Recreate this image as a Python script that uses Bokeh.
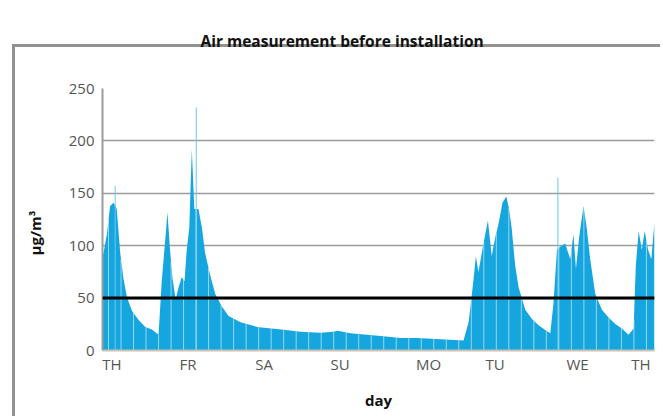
import numpy as np
from bokeh.plotting import figure
from bokeh.models import Range1d, FixedTicker, Span, Title, LinearAxis
from bokeh.embed import file_html
from bokeh.resources import INLINE

# ---- data (hours since start of Thursday, concentration in µg/m³) ----
hours = [0.0, 0.3, 1.4, 2.4, 3.5, 4.5, 5.6, 6.6, 7.7, 9.3, 11.4, 13.5, 15.6, 17.7,
         18.7, 19.8, 20.5, 21.4, 22.1, 23.1, 24.0, 25.0, 25.9, 26.6, 27.4, 28.2,
         29.0, 30.3, 31.4, 32.4, 34.0, 35.6, 37.7, 39.8, 43.6, 48.8, 57.2, 62.5,
         68.8, 72.9, 74.2, 78.3, 88.7, 94.1, 99.5, 108.2, 114.0, 115.6, 117.1,
         117.9, 118.7, 120.3, 121.7, 122.9, 124.0, 125.0, 126.3, 127.5, 128.4,
         129.2, 130.3, 131.4, 133.5, 135.6, 137.7, 139.8, 141.4, 142.4, 143.5,
         144.5, 146.1, 147.7, 148.7, 149.5, 150.5, 151.9, 152.9, 154.0, 155.6,
         157.7, 159.8, 161.9, 164.0, 166.1, 167.7, 168.4, 169.3, 170.3, 171.2,
         172.3, 173.3, 174.3]
values = [90, 93, 111, 138, 141, 135, 93, 69, 51, 38, 29, 22.5, 20, 15,
          66, 105, 132, 93, 69, 49, 60, 70, 66, 96, 117, 192,
          135, 135, 117, 93, 72, 54, 42, 33, 27, 22.5, 19.8, 18,
          17, 18, 18.9, 16.5, 13.5, 12, 12, 10.5, 9.5, 27, 66,
          90, 75, 102, 124, 90, 108, 120, 141, 147, 135,
          117, 81, 60, 39, 30, 24, 19.5, 16.5, 45, 96,
          99, 102, 87, 111, 78, 108, 138, 117, 87, 54,
          39, 31.5, 25.4, 21, 15, 21, 81, 114, 96, 114,
          96, 87, 123]
spike_hours = [4.0, 29.6, 143.8]
spike_values = [157, 232, 165]

day_labels = ["TH", "FR", "SA", "SU", "MO", "TU", "WE", "TH"]
day_tick_hours = [3, 27, 51, 75, 103, 124, 150, 170]
y_ticks = [0, 50, 100, 150, 200, 250]
limit_value = 50

title_text = "Air measurement before installation"
y_label_text = "µg/m³"
x_label_text = "day"

BLUE = "#15a6df"
FONT = "Open Sans"
FRAME = "#929292"

p = figure(width=660, height=416, output_backend="svg", toolbar_location=None,
           x_range=Range1d(0, 174.3), y_range=Range1d(0, 250),
           min_border_left=102, min_border_right=6, min_border_top=72,
           min_border_bottom=66)
p.outline_line_color = None
p.background_fill_color = None
p.border_fill_color = None
# outer gray frame (left and top edges; the rest runs off the page)
p.styles = {
    "background-image": f"linear-gradient({FRAME},{FRAME}), linear-gradient({FRAME},{FRAME})",
    "background-size": "3px 100%, 100% 3px",
    "background-position": "12px 44px, 12px 44px",
    "background-repeat": "no-repeat",
}

# the main axes (grab them before any extra axis is added)
xa = p.below[0]
ya = p.left[0]

# default title left blank (takes no space)
p.title.text = " "
# invisible spacer axis between the frame and the real title:
# one hidden tick whose (invisible) length reserves the room
spacer_tick = [87]
spacer = LinearAxis(ticker=FixedTicker(ticks=spacer_tick), axis_line_color=None,
                    major_tick_line_color=None, minor_tick_line_color=None,
                    major_tick_out=37, major_tick_in=0, major_label_standoff=0,
                    major_label_overrides={spacer_tick[0]: ""},
                    major_label_text_font_size="0px", major_label_text_alpha=0)
p.add_layout(spacer, "above")
# real title, stacked above the spacer
p.add_layout(Title(text=title_text, align="left", offset=98, standoff=0,
                   text_font=FONT, text_font_size="15.5px",
                   text_font_style="bold", text_color="#111111"), "above")

# y label as a side title (outside the y axis)
p.add_layout(Title(text=y_label_text, align="left", offset=95, standoff=42,
                   text_font=FONT, text_font_size="15px",
                   text_font_style="bold", text_color="#111111"), "left")

# area
p.varea(x=hours, y1=0, y2=values, fill_color=BLUE, fill_alpha=1.0)
p.segment(x0=spike_hours, y0=[0] * len(spike_hours), x1=spike_hours,
          y1=spike_values, line_color="#6cc8ee", line_width=1)

# white separators every ~4 hours
sep_x = np.arange(1.9, hours[-1], 3.95)
sep_top = np.interp(sep_x, hours, values)
p.segment(x0=sep_x, y0=np.zeros_like(sep_x), x1=sep_x, y1=sep_top,
          line_color="white", line_alpha=0.55, line_width=1)

# limit line
p.add_layout(Span(location=limit_value, dimension="width",
                  line_color="black", line_width=3))

# grid
p.xgrid.grid_line_color = None
p.ygrid.ticker = FixedTicker(ticks=y_ticks[1:])
p.ygrid.grid_line_color = "#9c9c9c"
p.ygrid.grid_line_width = 1.5

# y axis
ya.ticker = FixedTicker(ticks=y_ticks)
ya.major_label_text_font = FONT
ya.major_label_text_font_size = "15px"
ya.major_label_text_color = "#555555"
ya.major_label_standoff = 8
ya.major_tick_out = 0
ya.major_tick_in = 0
ya.major_tick_line_color = None
ya.minor_tick_line_color = None
ya.axis_line_color = "#9c9c9c"
ya.axis_line_width = 2

# x axis
xa.ticker = FixedTicker(ticks=day_tick_hours)
xa.major_label_overrides = {h: lab for h, lab in zip(day_tick_hours, day_labels)}
xa.axis_label = x_label_text
xa.axis_label_text_font = FONT
xa.axis_label_text_font_style = "bold"
xa.axis_label_text_font_size = "15px"
xa.axis_label_text_color = "#111111"
xa.axis_label_standoff = 13
xa.major_label_text_font = FONT
xa.major_label_text_font_size = "15px"
xa.major_label_text_color = "#555555"
xa.major_label_standoff = 3
xa.major_tick_out = 0
xa.major_tick_in = 0
xa.major_tick_line_color = None
xa.minor_tick_line_color = None
xa.axis_line_color = "#cbc2b3"
xa.axis_line_width = 2

open("out.html", "w").write(file_html(p, INLINE))
